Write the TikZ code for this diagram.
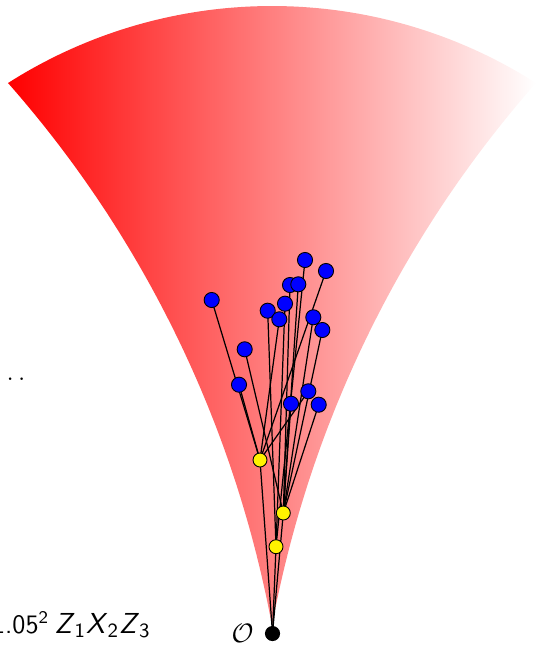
\documentclass[tikz,border=0pt]{standalone}
\begin{document}
\begin{tikzpicture}[x=0.45pt,y=-0.45pt,
  bluenode/.style={circle,draw=black,line width=0.4pt,fill=blue,inner sep=0pt,minimum size=6.8pt},
  yellownode/.style={circle,draw=black,line width=0.4pt,fill=yellow,inner sep=0pt,minimum size=6.3pt},
  rootnode/.style={circle,fill=black,inner sep=0pt,minimum size=6.8pt},
  link/.style={draw=black,line width=0.55pt},
  lbl/.style={font={\fontsize{12}{15}\selectfont\sffamily}}]
\useasboundingbox (0,0) rectangle (543,647);
% cone
\path[left color=red,right color=white]
  plot[domain=-10.53:-41.38,samples=60] ({-842+1133*cos(\x)},{832+1133*sin(\x)})
  -- plot[domain=-122.53:-57.47,samples=80] ({272+491*cos(\x)},{497+491*sin(\x)})
  -- plot[domain=-138.62:-169.47,samples=60] ({1386+1133*cos(\x)},{832+1133*sin(\x)})
  -- cycle;
% positions
\coordinate (pO) at (272.5,633.5);
\coordinate (q1) at (260,460);
\coordinate (q2) at (283.3,513);
\coordinate (q3) at (276,546.7);
\foreach \n/\px/\py in {1/305/260,2/326/271,3/290/285,4/298.3/284.3,5/211.7/300,
  6/285/303.7,7/267.7/310.7,8/279.3/319.3,9/313.3/317.3,10/322.3/330,
  11/244.7/349.3,12/239/384.7,13/308.3/391.3,14/291/403.7,15/318.7/404.7}
  \coordinate (p\n) at (\px,\py);
% links
\foreach \b in {5,12,2,13,8} \draw[link] (p\b) -- (q1);
\foreach \b in {11,3,4,9,10,14,15} \draw[link] (p\b) -- (q2);
\foreach \b in {7,6,1} \draw[link] (p\b) -- (q3);
\draw[link] (q1) -- (pO);
\draw[link] (q2) -- (pO);
\draw[link] (q3) -- (pO);
% nodes on top
\node[yellownode] (y1) at (q1) {};
\node[yellownode] (y2) at (q2) {};
\node[yellownode] (y3) at (q3) {};
\node[rootnode] (O) at (pO) {};
\foreach \n in {1,...,15} \node[bluenode] (b\n) at (p\n) {};
% labels
\node[lbl,anchor=base east,inner sep=0pt] (lab) at (151,633) {1.05\textsuperscript{2}\hspace{2.5pt}{\fontsize{13}{16}\selectfont\textit{Z}\textsubscript{1}\textit{X}\textsubscript{2}\textit{Z}\textsubscript{3}}};
\node[lbl,anchor=base east,inner sep=0pt] (dots) at (26,380) {$\ldots$};
\node[anchor=east,inner sep=0pt,font=\fontsize{12}{14}\selectfont] (Olbl) at (254,633) {$\mathcal{O}$};
\end{tikzpicture}
\end{document}
